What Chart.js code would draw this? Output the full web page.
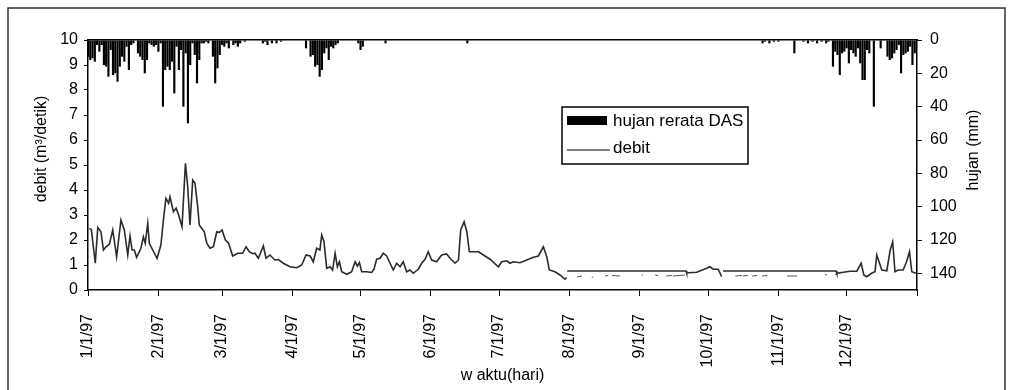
<!DOCTYPE html>
<html>
<head>
<meta charset="utf-8">
<script src="https://cdn.jsdelivr.net/npm/chart.js@4"></script>
<style>
  html, body { margin: 0; padding: 0; background: #fff; }
</style>
</head>
<body>
<canvas id="chart" width="1010" height="390"></canvas>
<script>
// ===== data (day of year 1997, 0 = 1 Jan) =====

const tickDays = [0, 31, 59, 90, 120, 151, 181, 212, 243, 273, 304, 334, 365];
const tickLabels = ['1/1/97', '2/1/97', '3/1/97', '4/1/97', '5/1/97', '6/1/97', '7/1/97', '8/1/97', '9/1/97', '10/1/97', '11/1/97', '12/1/97', ''];

// hujan rerata DAS (mm), right axis, hanging from the top
const rainDay = [0, 1, 2, 3, 4, 5, 6, 7, 8, 9, 10, 11, 12, 13, 14, 15, 16, 17, 18, 19, 20, 22, 23, 24, 25, 26, 27, 28, 29, 30,
  31, 32, 33, 34, 35, 36, 37, 38, 39, 40, 41, 42, 43, 44, 45, 46, 47, 48, 49, 50, 51, 52, 53, 55, 56, 57, 58,
  59, 60, 61, 62, 64, 65, 66, 67, 69, 77, 78, 79, 81, 83, 85,
  96, 98, 99, 100, 101, 102, 103, 104, 105, 106, 107, 108, 109, 110, 119, 120, 121, 131, 167,
  297, 298, 300, 302, 304, 311, 315, 317, 319, 321, 323, 325, 326,
  328, 329, 330, 331, 332, 333, 334, 335, 336, 337, 338, 339, 340, 341, 342, 343, 344, 346, 349,
  352, 353, 354, 355, 356, 357, 358, 359, 360, 361, 362, 363, 364];
const rainMm = [10, 12, 11, 13, 3, 7, 3, 15, 16, 22, 6, 21, 20, 25, 16, 10, 13, 4, 18, 3, 2, 8, 10, 12, 20, 12, 2, 3, 4, 3,
  7, 2, 40, 18, 16, 18, 13, 32, 4, 18, 6, 40, 8, 50, 15, 2, 9, 26, 12, 2, 2, 1, 2, 10, 26, 17, 9,
  3, 4, 2, 5, 3, 2, 4, 2, 1, 2, 1, 3, 2, 2, 1,
  5, 10, 9, 16, 15, 22, 18, 8, 5, 12, 4, 5, 3, 2, 2, 6, 4, 2, 2,
  2, 1, 2, 1, 1, 8, 1, 2, 1, 2, 1, 2, 1,
  16, 7, 9, 21, 8, 7, 5, 14, 6, 8, 10, 5, 14, 24, 24, 6, 8, 40, 5,
  10, 12, 11, 8, 6, 3, 20, 9, 8, 7, 4, 15, 8];

// debit (m3/detik), left axis; null = break in the line
const debitDay = [0.6, 1.5, 3.2, 4.3, 5.7, 6.8, 7.9, 9.4, 10.9, 12.6, 14.5, 16, 17.5, 18.5, 19.4, 20.4, 21.4, 23.3, 24.4, 25.2,
  26.3, 27, 28.5, 30.4, 32.1, 33.2, 34.3, 35.5, 36.1, 37.6, 38.8, 39.9, 41.4, 42.9, 43.9, 44.9, 46.1, 47.1, 48.3, 49,
  49.8, 51.2, 52.3, 53.7, 55.2, 56.7, 57.8, 59, 60.5, 61.9, 63.7, 65.9, 68.1, 69.6, 71, 72.5, 73.5, 75, 77.2, 78.4,
  80.1, 82.3, 83.8, 86, 88.9, 91.9, 94.1, 96, 97.8, 99.2, 100.7, 102.1, 102.9, 103.9, 105.1, 106.6, 107.7, 108.8, 109.8, 110.7,
  111.7, 113.9, 116.1, 117.6, 118.6, 119.5, 120.5, 122.7, 124.9, 125.9, 127.1, 128.6, 130, 131.5, 133, 134.4, 135.9, 137.4, 138.8, 140.3,
  141.8, 143.2, 145.4, 146.9, 148.4, 149.8, 151.3, 153.5, 155.7, 157.9, 159.4, 161.6, 163.1, 164.1, 165.6, 166.8, 167.9, 171.9, 174.1, 177,
  180.7, 182.2, 184.4, 185.8, 187.3, 190.2, 193.2, 196.1, 198.3, 200.5, 202, 203.1, 205.6, 207.8, 210, 210.7, 210.8,
  211, 263.3, 263.6, 264.3, 268, 272.4, 273.8, 275.3, 277.5, 279, 279.3,
  279.6, 329.4, 329.7, 332.6, 335.5, 338.5, 340.4, 341.6, 342.8, 345, 346.5, 347.3, 349.5, 351.7, 353.2, 354.3, 355.3, 356.7, 358.9, 360.4,
  361.7, 362.7, 364.5];
const debitVal = [2.47, 2.4, 1.07, 2.5, 2.33, 1.6, 1.73, 1.83, 2.4, 1.33, 2.8, 2.4, 1.4, 2.16, 1.6, 1.6, 1.31, 1.67, 2.13, 1.87,
  2.67, 1.87, 1.6, 1.27, 1.8, 2.8, 3.67, 3.47, 3.73, 3.13, 3.27, 3.0, 2.53, 5.07, 4.13, 2.6, 4.4, 4.27, 3.33, 2.6,
  2.5, 2.33, 1.87, 1.67, 1.73, 2.33, 2.3, 2.4, 2.0, 1.87, 1.36, 1.47, 1.47, 1.73, 1.53, 1.45, 1.47, 1.27, 1.76, 1.27,
  1.4, 1.2, 1.22, 1.07, 0.93, 0.89, 1.0, 1.4, 1.36, 1.13, 1.67, 1.6, 2.2, 1.93, 0.87, 0.93, 0.8, 1.47, 0.93, 1.13,
  0.73, 0.63, 0.73, 1.13, 0.96, 1.1, 0.73, 0.73, 0.7, 0.83, 1.23, 1.27, 1.47, 1.36, 1.07, 0.8, 1.07, 0.93, 1.13, 0.73,
  0.8, 0.67, 0.83, 1.07, 1.23, 1.53, 1.2, 1.13, 1.4, 1.44, 1.27, 1.07, 1.2, 2.4, 2.73, 2.33, 1.53, 1.53, 1.4, 1.23,
  0.93, 1.13, 1.17, 1.07, 1.13, 1.09, 1.2, 1.31, 1.36, 1.73, 1.33, 0.8, 0.73, 0.6, 0.43, 0.5, null,
  0.76, 0.76, 0.67, 0.69, 0.71, 0.87, 0.93, 0.83, 0.83, 0.53, null,
  0.76, 0.76, 0.67, 0.71, 0.75, 0.75, 1.07, 0.6, 0.53, 0.67, 0.73, 1.4, 0.8, 0.77, 1.6, 1.93, 0.73, 0.8, 0.8, 1.13,
  1.53, 0.73, 0.67];

// faint broken pieces of debit under the flat stretch
const lowDay = [215.3, 217.5, 218, 221.8, 222.4, 223, 227.7, 229, 229.5, 230.7, 234.3, 235, 243.8, 244.3, 245, 249.7, 251, 252,
  254.5, 257.2, 257.4, 257.6, 262.9, 263, 285, 288, 288.2, 288.4, 290.6, 291, 292.4, 294.6, 295, 296.8, 299, 300,
  307.8, 312.2, 313, 324.5, 325.4, 326, 328.9, 330.2];
const lowVal = [0.52, 0.56, null, 0.5, 0.52, null, 0.56, 0.58, null, 0.58, 0.56, null, 0.6, 0.6, null, 0.6, 0.58, null,
  0.56, 0.58, null, 0.56, 0.6, null, 0.56, 0.58, null, 0.56, 0.58, null, 0.56, 0.58, null, 0.56, 0.58, null,
  0.56, 0.56, null, 0.6, 0.62, null, 0.62, 0.64];

// ==================================

const FONT = '"Liberation Sans", Arial, sans-serif';

const decor = {
    id: 'decor',
    beforeDraw(chart) {
        const ctx = chart.ctx;
        ctx.save();
        ctx.fillStyle = '#fff';
        ctx.fillRect(0, 0, chart.width, chart.height);
        ctx.strokeStyle = '#333';
        ctx.lineWidth = 1.5;
        ctx.strokeRect(8, 8, 997, 400);
        ctx.restore();
    },
    afterDraw(chart) {
        const ctx = chart.ctx;
        const ds = chart.data.datasets;
        ctx.save();
        ctx.fillStyle = '#000';
        ctx.font = '16px ' + FONT;
        ctx.textAlign = 'center';
        ctx.textBaseline = 'middle';

        // axis titles, both read bottom to top
        ctx.save();
        ctx.translate(42, 149);
        ctx.rotate(-Math.PI / 2);
        ctx.fillText('debit (m³/detik)', 0, 0);
        ctx.restore();

        ctx.save();
        ctx.translate(974, 150);
        ctx.rotate(-Math.PI / 2);
        ctx.fillText('hujan (mm)', 0, 0);
        ctx.restore();

        // legend box
        ctx.fillStyle = '#fff';
        ctx.fillRect(562, 107, 186, 57);
        ctx.strokeStyle = '#000';
        ctx.lineWidth = 1.5;
        ctx.strokeRect(562, 107, 186, 57);
        ctx.fillStyle = '#000';
        ctx.fillRect(567, 116, 40, 9);
        ctx.beginPath();
        ctx.lineWidth = 1.2;
        ctx.moveTo(567, 150);
        ctx.lineTo(610, 150);
        ctx.stroke();
        ctx.font = '17px ' + FONT;
        ctx.textAlign = 'left';
        ctx.fillText(ds[0].label, 613, 121);
        ctx.fillText(ds[1].label, 613, 148);
        ctx.restore();
    }
};

const toPts = (days, vals) => days.map((d, i) => ({ x: d, y: vals[i] }));

const tickFont = { family: FONT, size: 16 };

const config = {
    type: 'bar',
    data: {
        datasets: [
            {
                type: 'bar',
                label: 'hujan rerata DAS',
                xAxisID: 'x',
                yAxisID: 'y2',
                data: toPts(rainDay, rainMm),
                backgroundColor: '#000',
                borderWidth: 0,
                barPercentage: 0.95,
                categoryPercentage: 1
            },
            {
                type: 'line',
                label: 'debit',
                xAxisID: 'x',
                yAxisID: 'y',
                data: toPts(debitDay, debitVal),
                borderColor: '#2b2b2b',
                borderWidth: 1.6,
                pointRadius: 0,
                tension: 0,
                spanGaps: false
            },
            {
                type: 'line',
                label: 'debit low',
                xAxisID: 'x',
                yAxisID: 'y',
                data: toPts(lowDay, lowVal),
                borderColor: '#555',
                borderWidth: 1,
                pointRadius: 0,
                tension: 0,
                spanGaps: false
            }
        ]
    },
    options: {
        responsive: false,
        animation: false,
        layout: { padding: { top: 40, left: 0, right: 0, bottom: 0 } },
        plugins: { legend: { display: false }, tooltip: { enabled: false } },
        scales: {
            x: {
                type: 'linear',
                position: 'bottom',
                min: 0,
                max: 365,
                offset: false,
                afterBuildTicks: s => { s.ticks = tickDays.map(v => ({ value: v })); },
                afterFit: s => { s.height = 100; },
                ticks: {
                    autoSkip: false,
                    minRotation: 90,
                    maxRotation: 90,
                    padding: 18,
                    color: '#000',
                    font: tickFont,
                    callback: v => { const i = tickDays.indexOf(v); return i < 0 ? '' : tickLabels[i]; }
                },
                grid: { drawOnChartArea: false, offset: false, tickLength: 6, color: '#000' },
                border: { color: '#000', width: 1.5 },
                title: { display: true, text: 'w aktu(hari)', color: '#000', font: tickFont, padding: { top: 0, bottom: 5 } }
            },
            xTop: {
                type: 'linear',
                position: 'top',
                min: 0,
                max: 365,
                offset: false,
                afterFit: s => { s.height = 0; },
                ticks: { display: false },
                grid: { display: false, offset: false },
                border: { color: '#000', width: 1.5 }
            },
            y: {
                type: 'linear',
                position: 'left',
                min: 0,
                max: 10,
                afterFit: s => { s.width = 88; },
                ticks: { stepSize: 1, padding: 6, color: '#000', font: tickFont },
                grid: { drawOnChartArea: false, tickLength: 4, color: '#000' },
                border: { color: '#000', width: 1.5 }
            },
            y2: {
                type: 'linear',
                position: 'right',
                min: 0,
                max: 150,
                reverse: true,
                afterFit: s => { s.width = 93; },
                ticks: { stepSize: 20, includeBounds: false, padding: 8, color: '#000', font: tickFont },
                grid: { drawOnChartArea: false, tickLength: 5, color: '#000' },
                border: { color: '#000', width: 1.5 }
            }
        }
    },
    plugins: [decor]
};

const chart = new Chart(document.querySelector('#chart'), config);
</script>
</body>
</html>
